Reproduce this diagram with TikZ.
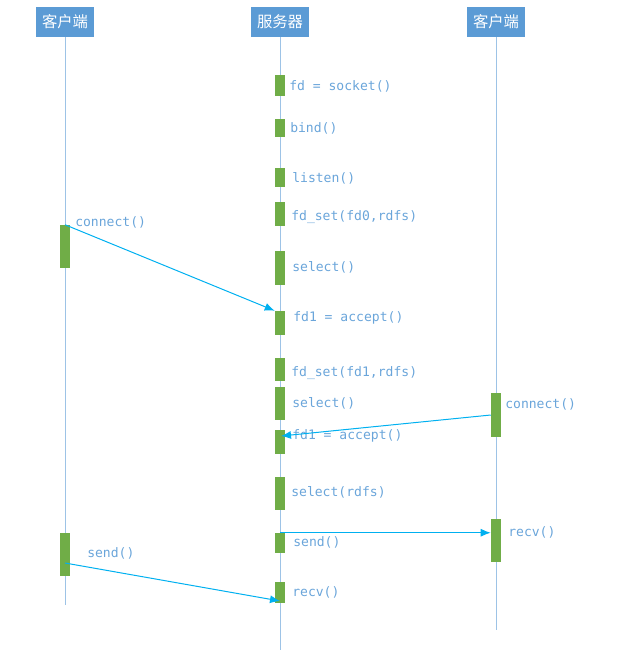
\documentclass[tikz,border=0pt]{standalone}
\usepackage{fontspec}
\setmonofont{DejaVu Sans Mono}
\newfontfamily\cjk{Noto Sans CJK SC}
\usetikzlibrary{arrows.meta}
\definecolor{headblue}{HTML}{5B9BD5}
\definecolor{lifeblue}{HTML}{9DC3E6}
\definecolor{actgreen}{HTML}{70AD47}
\definecolor{msgcyan}{HTML}{00B0F0}
\definecolor{txtblue}{HTML}{6AA5DA}
\begin{document}
\begin{tikzpicture}[x=0.75pt,y=-0.75pt,
  head/.style={fill=headblue, text=white, minimum width=43.5pt, minimum height=22.5pt, inner sep=0pt, font=\cjk\fontsize{11.5}{13}\selectfont},
  life/.style={lifeblue, line width=0.75pt},
  bar/.style={fill=actgreen, minimum width=7.5pt, inner sep=0pt},
  lbl/.style={anchor=west, inner sep=0pt, text=txtblue, font=\ttfamily\fontsize{9.8}{11}\selectfont},
  msg/.style={msgcyan, line width=0.75pt, -{Latex[length=7.5pt,width=6pt]}}]
  \useasboundingbox (0,0) rectangle (627,651);
  % heads
  \node[head] (cl) at (65,22) {客户端};
  \node[head] (sv) at (280,22) {服务器};
  \node[head] (cr) at (496,22) {客户端};
  % lifelines
  \coordinate (clend) at (65,605);
  \coordinate (svend) at (280,650);
  \coordinate (crend) at (496,630);
  \draw[life] (cl) -- (clend);
  \draw[life] (sv) -- (svend);
  \draw[life] (cr) -- (crend);
  % server
  \foreach \t/\b/\lx/\ly/\txt [count=\i] in {
      75/96/289/86/{fd = socket()},
      119/137/290/128/{bind()},
      168/187/292/178/{listen()},
      202/226/291/217/{fd\_set(fd0,rdfs)},
      251/285/292/267/{select()},
      311/335/293/318/{fd1 = accept()},
      358/381/291/373/{fd\_set(fd1,rdfs)},
      387/420/292/403/{select()},
      430/454/292/436/{fd1 = accept()},
      477/510/291/492/{select(rdfs)},
      533/553/293/542/{send()},
      582/603/292/592/{recv()}}{
    \node[bar, minimum height={(\b-\t)*0.75pt}] (s\i) at (280,{(\t+\b)/2}) {};
    \node[lbl] (sl\i) at (\lx,\ly) {\txt};
  }
  % clients
  \node[bar, minimum height=32.25pt] (c1) at (65,246.5) {};
  \node[bar, minimum height=32.25pt] (c2) at (65,554.5) {};
  \node[bar, minimum height=33pt] (r1) at (496,415) {};
  \node[bar, minimum height=32.25pt] (r2) at (496,540.5) {};
  \node[lbl] (cl1) at (75,222) {connect()};
  \node[lbl] (cl2) at (87,553) {send()};
  \node[lbl] (cr1) at (505,404) {connect()};
  \node[lbl] (cr2) at (508,532) {recv()};
  % messages
  \coordinate (acc2) at (281,436);
  \coordinate (snd) at (65,563);
  \coordinate (rcv) at (280,601);
  \draw[msg] (c1.north) -- (s6.north west);
  \draw[msg] (r1.west) -- (acc2);
  \draw[msg] (s11.north) -- (s11.north -| r2.west);
  \draw[msg] (snd) -- (rcv);
\end{tikzpicture}
\end{document}
